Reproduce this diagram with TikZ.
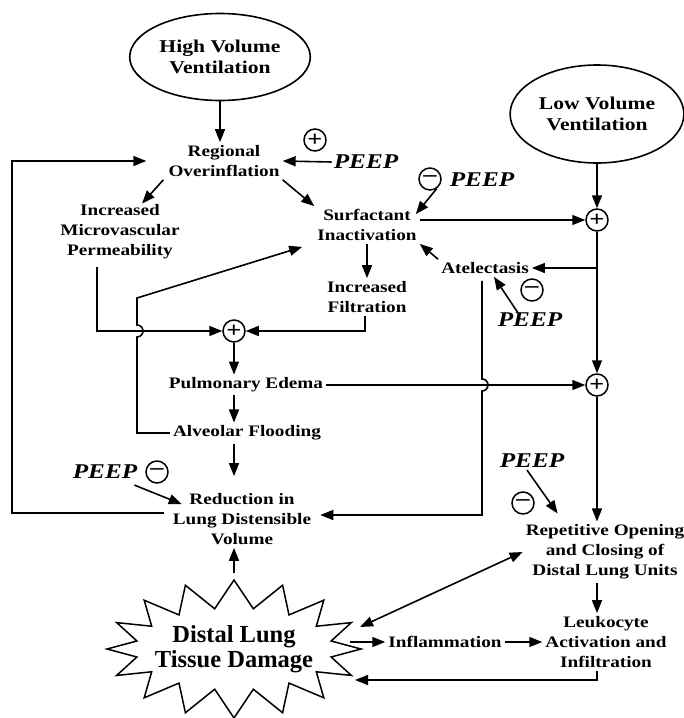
\documentclass[tikz,border=0pt]{standalone}
\usepackage{fontspec}
\setmainfont{Liberation Serif}[FakeStretch=1.2]
\newfontfamily\dmgfont{Liberation Serif}
\usetikzlibrary{shapes.geometric}
\usetikzlibrary{shapes.symbols}
\usetikzlibrary{positioning}
\usetikzlibrary{arrows.meta}

\tikzset{
  lbl/.style={align=center, inner sep=3pt, font=\fontsize{16}{20}\selectfont\bfseries},
  vent/.style={ellipse, draw, line width=1.6pt, align=center, font=\fontsize{18}{21}\selectfont\bfseries},
  burst/.style={starburst, draw, line width=1.5pt, starburst points=16, starburst point height=28pt,
    random starburst=0},
  bursttxt/.style={align=center, inner sep=0pt, font=\dmgfont\fontsize{24.5}{25}\selectfont\bfseries},
  sgn/.style={circle, draw, line width=1.5pt, minimum size=22pt, inner sep=0pt, font=\fontsize{22}{22}\selectfont\bfseries},
  peep/.style={inner sep=2pt, font=\fontsize{21}{24}\selectfont\bfseries\itshape},
  arr/.style={line width=1.6pt, -{Triangle[length=13pt,width=10pt]}},
  darr/.style={line width=1.6pt, {Triangle[length=13pt,width=10pt]}-{Triangle[length=13pt,width=10pt]}},
}

\begin{document}
\begin{tikzpicture}[x=1pt, y=-1pt]
\useasboundingbox (0,0) rectangle (684,718);

%---------------------------------------
% Ventilation
%---------------------------------------
\node[vent, minimum width=163pt, minimum height=87pt] (hv) at (220,57) {High Volume\\Ventilation};
\node[vent, minimum width=160pt, minimum height=98pt] (lv) at (597,114) {Low Volume\\Ventilation};

%---------------------------------------
% Left branch
%---------------------------------------
\node[lbl] (reg)   at (224,161) {Regional\\Overinflation};
\node[lbl] (micro) at (120,232) {Increased\\Microvascular\\Permeability};
\node[lbl] (surf)  at (367,225) {Surfactant\\Inactivation};
\node[lbl] (filt)  at (367,297) {Increased\\Filtration};
\node[lbl] (atel)  at (485,268) {Atelectasis};
\node[sgn] (sumA)  at (234,331) {+};
\node[lbl] (edema) at (246,385) {Pulmonary Edema};
\node[lbl] (flood) at (247,433) {Alveolar Flooding};
\node[lbl] (red)   at (242,519) {Reduction in\\Lung Distensible\\Volume};

%---------------------------------------
% Right branch
%---------------------------------------
\node[sgn] (sumB) at (597,220) {+};
\node[sgn] (sumC) at (597,385) {+};
\node[lbl] (rep)  at (605,552) {Repetitive Opening\\and Closing of\\Distal Lung Units};
\node[lbl] (leuk) at (606,642) {Leukocyte\\Activation and\\Infiltration};
\node[lbl] (infl) at (445,642) {Inflammation};

% Damage
\node[burst, minimum width=254pt, minimum height=138pt] (dmg) at (234,649) {};
\node[bursttxt] (dmgtxt) at (dmg.center) {Distal Lung\\Tissue Damage};

%---------------------------------------
% PEEP
%---------------------------------------
\node[peep] (peepA) at (366,162) {PEEP};
\node[sgn]  (sgnA)  at (315,140) {+};
\node[peep] (peepB) at (482,180) {PEEP};
\node[sgn]  (sgnB)  at (430,179) {--};
\node[peep] (peepC) at (530,320) {PEEP};
\node[sgn]  (sgnC)  at (532,290) {--};
\node[peep] (peepD) at (105,472) {PEEP};
\node[sgn]  (sgnD)  at (157,472) {--};
\node[peep] (peepE) at (532,461) {PEEP};
\node[sgn]  (sgnE)  at (523,503) {--};

%---------------------------------------
% Connectors
%---------------------------------------
\draw[arr] (hv.south) -- (hv.south |- reg.north);
\draw[arr] (peepA.west) -- (reg.east);
\draw[arr] ([shift={(-2,0)}]reg.south west) -- ([shift={(22,2)}]micro.north);
\draw[arr] (reg.south east) -- (surf.north west);
\draw[arr] (sgnB.-55) -- ([shift={(-4,8)}]surf.north east);
\draw[arr] ([shift={(0,-5)}]surf.east) -- (sumB.west);
\draw[arr] (surf.south) -- (filt.north);
\draw[arr] (atel.north west) -- (surf.south east);
\draw[arr] ([shift={(-12,2)}]peepC.north) -- ([shift={(9,0)}]atel.south);

\draw[arr] (lv.south) -- (sumB.north);
\draw[arr] (sumB) -- (sumC);
\draw[arr] (sumB |- atel.east) -- (atel.east);

\draw[arr] ([shift={(-23,5)}]micro.south) |- (sumA.west);
\draw[arr] ([shift={(-2,0)}]filt.south) |- (sumA.east);
\draw[arr] (sumA) -- (sumA |- edema.north);
\draw[arr] (edema.east) -- (sumC.west);
\draw[arr] (edema.south -| sumA) -- (flood.north -| sumA);
\draw[arr, shorten >=14pt] (flood.south -| sumA) -- (red.north -| sumA);

% crossing lines with hops
\draw[arr] (flood.west) -- (137,433) -- (137,337) arc[start angle=90, end angle=-90, radius=6]
  -- (137,298) -- ([shift={(-12,3)}]surf.south west);
\draw[arr] ([shift={(-3,4)}]atel.south) -- (482,379) arc[start angle=-90, end angle=90, radius=6]
  -- (482,515) -- ([shift={(6,-4)}]red.east);

% feedback to overinflation
\coordinate (loopL) at (12,161);
\draw[arr] ([shift={(-6,-6)}]red.west) -| (loopL) -- ([shift={(-19,0)}]reg.west);

\draw[arr] ([shift={(-5,4)}]peepD.south east) -- ([shift={(12,14)}]red.north west);
\draw[arr, shorten <=6pt] (dmg.north) -- (dmg.north |- red.south);

\draw[arr] (sumC) -- (sumC |- rep.north);
\draw[arr] ([shift={(-5,0)}]peepE.south) -- ([shift={(35,-8)}]rep.north west);
\draw[arr] (rep.south -| sumC) -- (leuk.north -| sumC);
\draw[darr] (rep.west) -- (360,627);
\draw[arr] (infl.west -| 350,0) -- (infl.west);
\draw[arr] (infl.east) -- (leuk.west |- infl.east);
\draw[arr] (leuk.south -| sumC) |- (355,680);

\end{tikzpicture}
\end{document}
